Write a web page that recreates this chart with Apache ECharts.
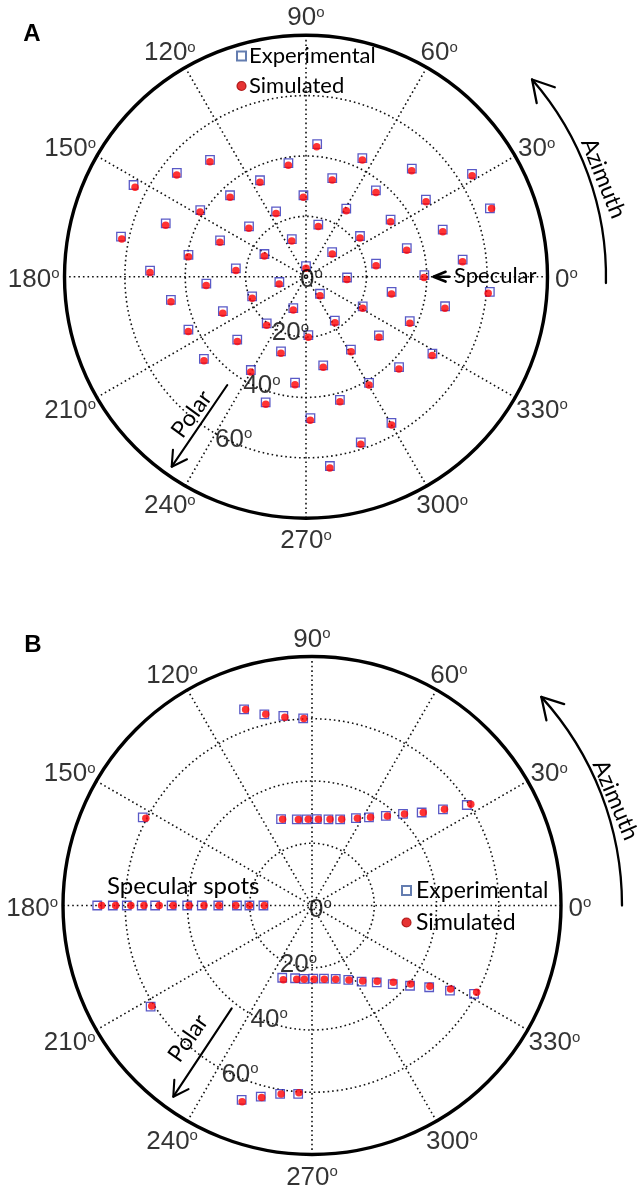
<!DOCTYPE html>
<html><head><meta charset="utf-8">
<script src="https://cdn.jsdelivr.net/npm/echarts@6/dist/echarts.min.js"></script>
<style>html,body{margin:0;padding:0;background:#fff}#c{width:637px;height:1191px}</style>
</head><body><div id="c"></div>
<script>
// ---------- data (radius = polar angle in degrees, angle = azimuth in degrees) ----------
const angleTicks = [0,30,60,90,120,150,180,210,240,270,300,330];
const radialTicks = [0,20,40,60];
const seriesNames = ['Experimental','Simulated'];

const simA = [
[43.2,85.3],[49.6,129.9],[54.5,141.8],[63.9,152.4],[37.4,99.0],[34.8,116.0],[36.4,133.7],[26.3,91.9],[41.1,148.6],[23.2,115.3],
[62.3,168.4],[49.5,159.9],[24.8,139.7],[17.1,76.2],[30.7,158.2],[12.7,111.8],[39.5,170.4],[15.4,153.6],[51.7,178.5],[23.3,174.9],
[2.8,90.0],[42.9,64.2],[49.6,45.1],[64.4,31.3],[65.5,20.2],[33.2,74.8],[36.3,50.3],[46.9,32.0],[25.6,58.6],[33.4,33.0],
[47.7,18.2],[22.0,35.6],[34.5,14.7],[52.1,5.5],[11.5,40.8],[23.5,8.9],[39.1,359.6],[13.6,356.1],[33.2,185.1],[9.2,195.3],
[45.5,190.5],[19.2,201.9],[30.1,203.7],[11.8,249.1],[43.0,205.0],[20.7,231.0],[31.3,223.4],[20.1,272.2],[43.8,219.5],[26.7,251.9],
[36.5,239.9],[36.0,264.2],[44.3,252.5],[47.6,271.7],[60.6,354.8],[28.9,348.6],[7.8,306.4],[47.2,347.2],[21.5,330.9],[37.7,335.9],
[18.0,302.2],[31.4,320.3],[49.3,328.0],[29.0,301.0],[43.4,315.2],[30.5,280.8],[41.5,300.2],[42.9,285.2],[56.7,300.0],[58.4,288.1],
[63.9,277.1]
];
const expA = [
[44.1,85.2],[50.1,129.4],[54.9,141.2],[64.7,152.0],[38.1,98.8],[35.4,115.5],[36.9,133.0],[27.0,91.8],[41.4,147.8],[23.8,114.6],
[62.7,167.8],[49.7,159.2],[25.2,138.5],[17.7,76.7],[30.9,157.1],[13.3,110.7],[39.6,169.5],[15.7,151.4],[51.7,177.8],[23.4,173.3],
[3.5,90.0],[43.5,64.6],[50.1,45.6],[64.7,31.8],[65.0,20.4],[33.8,75.1],[36.8,51.0],[47.2,32.7],[26.2,59.4],[33.8,34.0],
[47.9,19.0],[22.4,37.0],[34.7,15.8],[52.2,6.2],[11.9,43.3],[23.6,10.5],[39.2,0.8],[13.6,358.9],[33.1,184.0],[9.0,191.3],
[45.4,189.7],[19.0,200.1],[29.8,202.5],[11.2,247.9],[42.7,204.2],[20.2,229.9],[30.9,222.5],[19.4,272.3],[43.4,218.8],[26.1,251.5],
[35.9,239.4],[35.3,264.1],[43.7,252.2],[46.9,271.8],[61.1,355.3],[28.8,349.9],[7.3,309.3],[47.1,348.0],[21.2,332.4],[37.4,336.8],
[17.4,303.3],[31.0,321.2],[49.0,328.7],[28.4,301.6],[43.0,315.8],[29.9,281.0],[40.9,300.7],[42.3,285.4],[56.1,300.3],[57.8,288.3],
[63.2,277.2]
];
const simB = [
[66.5,108.7],[63.2,103.6],[61.1,98.2],[60.1,92.5],
[60.3,152.3],
[29.3,108.8],[28.0,99.0],[27.7,92.5],[27.8,85.8],[28.3,78.2],[29.3,71.0],[31.6,62.5],[34.0,56.4],[37.6,49.9],[41.8,44.7],[46.6,39.9],[52.6,36.0],[60.5,32.5],
[67.6,180],[63.1,180],[58.2,180],[54.0,180],[49.1,180],[44.6,180],[39.5,180],[34.7,180],[29.9,180],[24.5,180],[20.1,180],[15.3,180],
[60.8,212.1],
[25.6,248.9],[24.2,258.3],[23.8,264.0],[23.7,271.6],[24.0,279.5],[24.9,287.8],[26.7,296.4],[29.2,303.9],[32.1,310.7],[35.9,316.7],[40.5,321.5],[45.9,325.6],[52.0,328.9],[59.8,332.2],
[66.9,250.4],[63.8,255.3],[61.4,260.7],[60.3,266.0]
];
const expB = [
[66.7,109.1],[63.3,104.0],[61.6,98.6],[60.2,92.7],
[61.3,152.5],
[29.5,109.7],[28.1,100.0],[27.7,93.5],[27.8,86.8],[28.2,79.2],[29.1,71.9],[31.4,63.3],[33.7,57.1],[37.3,50.5],[41.5,45.2],[46.2,40.3],[52.2,36.3],[59.3,33.0],
[69.0,180],[64.0,180],[59.5,180],[54.7,180],[50.4,180],[45.1,180],[40.1,180],[35.4,180],[30.1,180],[24.1,180],[20.1,180],[15.6,180],
[61.2,212.1],
[25.1,247.6],[24.0,256.9],[23.7,263.8],[23.5,271.0],[23.8,279.3],[24.8,287.9],[26.6,296.0],[29.2,303.1],[32.3,310.1],[36.2,315.8],[40.7,320.7],[45.9,325.1],[52.1,328.3],[59.3,331.4],
[66.4,250.1],[63.6,255.0],[61.4,260.4],[60.7,265.8]
];

// ---------- layout / style ----------
const D = Math.PI / 180;
const NUMF = "'Liberation Sans Narrow', 'Liberation Sans', sans-serif";
const TXTF = "Lato, 'Open Sans', sans-serif";
const centers = [[306, 276.7], [312, 905.5]];
const radii = [241.5, 249];
const RMAX = 80;
const radLabelAngle = 242;
const radLabelOffset = [[-6, 3], [-3, 4]];
const dotted = {color: '#111', width: 1.6, type: [1.6, 3]};

// position of an azimuth tick label (centre of the text box), expressed in polar data units
function angLabelValue(i, a, text) {
  const c = Math.cos(a * D), s = Math.sin(a * D);
  const R0 = radii[i] + 9.5, halfW = (text.length * 11.9 + 7) / 2, halfH = 10.4;
  const px = (R0 + halfW) * c, py = (R0 + halfH) * s - 3;
  const scale = radii[i] / RMAX;
  let th = Math.atan2(py, px) / D; if (th < 0) th += 360;
  return [Math.hypot(px, py) / scale, th];
}

const chart = echarts.init(document.getElementById('c'), null, {renderer: 'canvas', width: 637, height: 1191});

const polar = [], angleAxis = [], radiusAxis = [], series = [];
const sets = [[expA, simA], [expB, simB]];
for (let i = 0; i < 2; i++) {
  polar.push({center: centers[i], radius: radii[i]});
  angleAxis.push({
    polarIndex: i, type: 'value', min: 0, max: 360, interval: 30, startAngle: 0, clockwise: false,
    axisLine: {lineStyle: {color: '#000', width: 3.4}},
    axisTick: {show: false}, axisLabel: {show: false},
    splitLine: {show: true, lineStyle: dotted}
  });
  radiusAxis.push({
    polarIndex: i, type: 'value', min: 0, max: RMAX, interval: 20,
    axisLine: {show: false}, axisTick: {show: false}, axisLabel: {show: false},
    splitLine: {show: true, lineStyle: dotted}
  });
  series.push({
    type: 'scatter', name: seriesNames[0], coordinateSystem: 'polar', polarIndex: i,
    data: sets[i][0], symbol: 'rect', symbolSize: 8.5, z: 3,
    itemStyle: {color: 'rgba(255,255,255,0)', borderColor: '#2f2fb8', borderWidth: 1.3},
    emphasis: {disabled: true}
  });
  series.push({
    type: 'scatter', name: seriesNames[1], coordinateSystem: 'polar', polarIndex: i,
    data: sets[i][1], symbol: 'circle', symbolSize: 7.5, z: 4,
    itemStyle: {color: '#ff0000'},
    emphasis: {disabled: true}
  });
  // azimuth tick labels
  series.push({
    type: 'scatter', coordinateSystem: 'polar', polarIndex: i, silent: true, clip: false, z: 6,
    symbolSize: 0.1, itemStyle: {color: 'rgba(0,0,0,0)'},
    data: angleTicks.map(a => ({name: String(a), value: angLabelValue(i, a, String(a))})),
    label: {
      show: true, position: 'inside',
      formatter: p => '{n|' + p.name + '}{s|o}',
      rich: {
        n: {fontFamily: NUMF, fontSize: 26, lineHeight: 26, color: '#000'},
        s: {fontFamily: NUMF, fontSize: 15, lineHeight: 15, verticalAlign: 'top', color: '#000'}
      }
    }
  });
  // polar-angle (radial) tick labels
  series.push({
    type: 'scatter', coordinateSystem: 'polar', polarIndex: i, silent: true, clip: false, z: 6,
    symbolSize: 0.1, itemStyle: {color: 'rgba(0,0,0,0)'},
    data: radialTicks.map(t => ({name: String(t), value: [t, radLabelAngle]})),
    label: {
      show: true, position: 'right', distance: 0, offset: radLabelOffset[i],
      formatter: p => '{n|' + p.name + '}{s|o}',
      rich: {
        n: {fontFamily: NUMF, fontSize: 26, lineHeight: 26, color: '#000'},
        s: {fontFamily: NUMF, fontSize: 15, lineHeight: 15, verticalAlign: 'top', color: '#000'}
      }
    }
  });
}

function head(tip, backDeg, len, spread) {
  const a1 = (backDeg - spread) * D, a2 = (backDeg + spread) * D;
  return [[tip[0] + len * Math.cos(a1), tip[1] + len * Math.sin(a1)], tip,
          [tip[0] + len * Math.cos(a2), tip[1] + len * Math.sin(a2)]];
}
function onCircle(c, r, deg) { return [c[0] + r * Math.cos(deg * D), c[1] - r * Math.sin(deg * D)]; }
const stroke = w => ({stroke: '#000', lineWidth: w, fill: null, lineCap: 'round', lineJoin: 'round'});
function txt(x, y, s, size, opts) {
  opts = opts || {};
  return {type: 'text', x: x, y: y, rotation: (opts.rot || 0) * D, z: 10,
    style: {text: s, font: (opts.bold ? 'bold ' : '') + size + 'px ' + (opts.family || TXTF), fill: '#000',
      textAlign: opts.align || 'center', align: opts.align || 'center',
      textVerticalAlign: 'middle', verticalAlign: 'middle'}};
}

const graphic = [];
// panel letters
graphic.push(txt(32, 34.5, 'A', 24, {bold: true, family: "'Liberation Sans', Arial, sans-serif"}));
graphic.push(txt(33, 645, 'B', 24, {bold: true, family: "'Liberation Sans', Arial, sans-serif"}));
// azimuth arrows
const az = [{r: 300, a0: -1.2, a1: 41.1, text: [603.3, 178.3], rot: -68},
            {r: 310, a0: 0, a1: 42.3, text: [615.5, 800], rot: -67}];
for (let i = 0; i < 2; i++) {
  const c = centers[i], z = az[i];
  graphic.push({type: 'arc', z: 10, shape: {cx: c[0], cy: c[1], r: z.r, startAngle: -z.a1 * D, endAngle: -z.a0 * D, clockwise: true}, style: stroke(2.3)});
  const tip = onCircle(c, z.r, z.a1);
  graphic.push({type: 'polyline', z: 10, shape: {points: head(tip, 90 - z.a1, 24, 30)}, style: stroke(2.3)});
  graphic.push(txt(z.text[0], z.text[1], 'Azimuth', 23, {rot: z.rot}));
}
// polar arrows
const pa = [{s: [227.3, 385], t: [171.7, 466.7], text: [191.7, 414.3], rot: 54},
            {s: [231.7, 1008.3], t: [173.3, 1096.7], text: [188.3, 1038.3], rot: 55}];
for (const p of pa) {
  graphic.push({type: 'line', z: 10, shape: {x1: p.s[0], y1: p.s[1], x2: p.t[0], y2: p.t[1]}, style: stroke(2.1)});
  const back = Math.atan2(p.s[1] - p.t[1], p.s[0] - p.t[0]) / D;
  graphic.push({type: 'polyline', z: 10, shape: {points: head(p.t, back, 17, 30)}, style: stroke(2.1)});
  graphic.push(txt(p.text[0], p.text[1], 'Polar', 23, {rot: p.rot}));
}
// specular annotations
graphic.push({type: 'line', z: 10, shape: {x1: 449, y1: 276.7, x2: 434, y2: 276.7}, style: stroke(2.6)});
graphic.push({type: 'polyline', z: 10, shape: {points: head([433.5, 276.7], 0, 13, 22)}, style: stroke(2.6)});
graphic.push(txt(454, 276, 'Specular', 22, {align: 'left'}));
graphic.push(txt(107, 886.7, 'Specular spots', 24, {align: 'left'}));

const legendData = [
  {name: seriesNames[0], icon: 'rect', itemStyle: {color: '#fff', borderColor: '#3d5c9c', borderWidth: 2}},
  {name: seriesNames[1], icon: 'circle', itemStyle: {color: '#e00000', borderColor: '#a00000', borderWidth: 1.2}}
];
const legend = [
  {left: 236, top: 43, orient: 'vertical', padding: 0, itemWidth: 9, itemHeight: 9, itemGap: 4, selectedMode: false,
   textStyle: {fontFamily: TXTF, fontSize: 22, lineHeight: 26, color: '#000', padding: [0, 0, 0, -2]}, data: legendData},
  {left: 401, top: 877.5, orient: 'vertical', padding: 0, itemWidth: 9, itemHeight: 9, itemGap: 6, selectedMode: false,
   textStyle: {fontFamily: TXTF, fontSize: 23, lineHeight: 26, color: '#000'}, data: legendData}
];

chart.setOption({
  animation: false,
  backgroundColor: '#fff',
  polar, angleAxis, radiusAxis, series, legend, graphic
});
</script>
</body></html>
